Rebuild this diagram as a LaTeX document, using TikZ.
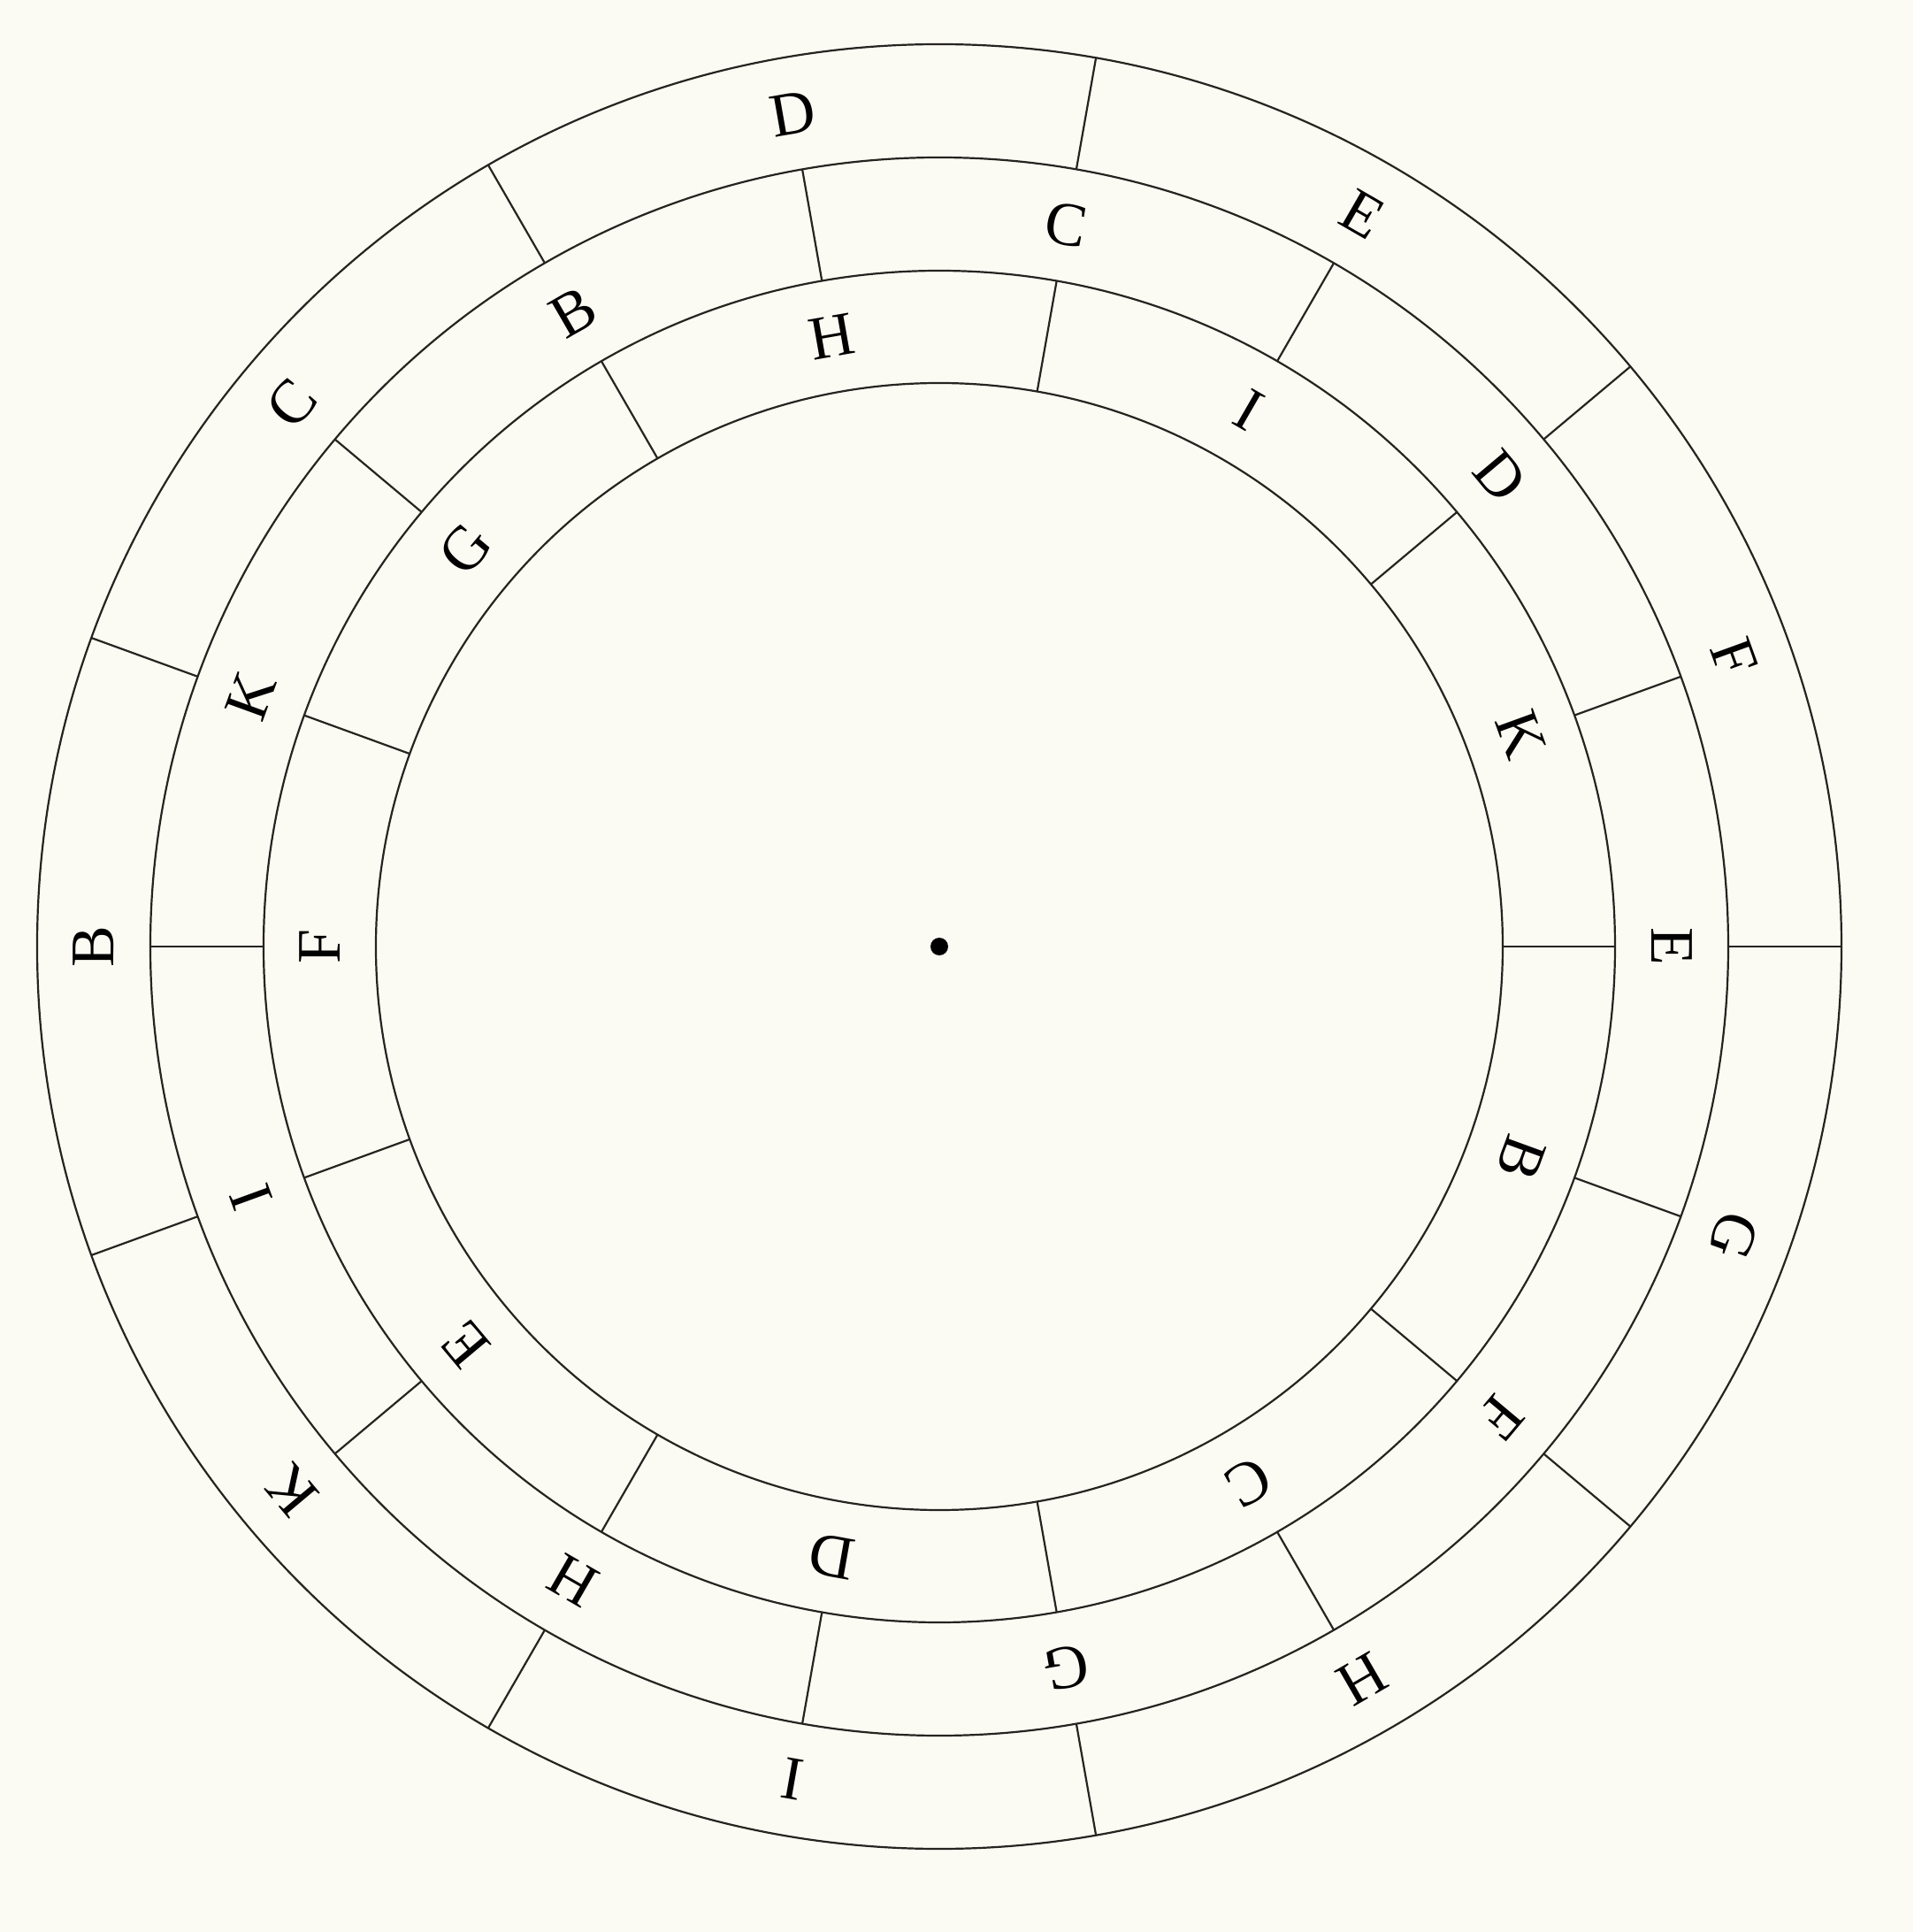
\documentclass[tikz,border=0pt]{standalone}
\usepackage{fontspec}
\setmainfont{Liberation Serif}
\definecolor{paper}{RGB}{251,250,243}
\definecolor{ink}{RGB}{38,36,32}
\begin{document}
\begin{tikzpicture}[x=1pt,y=1pt,
  ring/.style={draw=ink,line width=1.1pt},
  lab/.style={font=\fontsize{35}{40}\selectfont,text=black,inner sep=0pt}]
\fill[paper] (-531,-557) rectangle (550.5,535);
\useasboundingbox (-531,-557) rectangle (550.5,535);
\coordinate (O) at (0,0);
% circles
\foreach \r in {318.5,382,446,510} \draw[ring] (O) circle (\r);
% dividers
\foreach \k in {0,...,8} {
  \draw[ring] ({40*\k}:446) -- ({40*\k}:510);
  \draw[ring] ({20+40*\k}:382) -- ({20+40*\k}:446);
  \draw[ring] ({40*\k}:318.5) -- ({40*\k}:382);
}
% labels
\foreach \l [count=\i from 0] in {B,C,D,E,F,G,H,I,K} {
  \pgfmathsetmacro\ao{180-40*\i}
  \pgfmathsetmacro\am{120-40*\i}
  \pgfmathsetmacro\ai{-20-40*\i}
  \node[lab,rotate=\ao-90] (o\l) at (\ao:478) {\l};
  \node[lab,rotate=\am-90] (m\l) at (\am:414) {\l};
  \node[lab,rotate=\ai-90] (i\l) at (\ai:350) {\l};
}
% centre dot
\fill[black] (O) circle (5);
\end{tikzpicture}
\end{document}
